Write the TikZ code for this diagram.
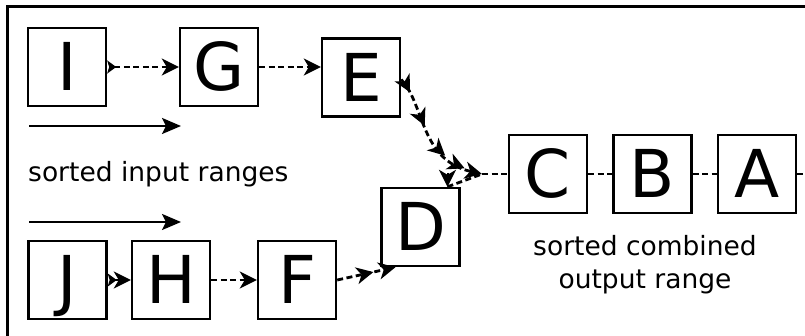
\documentclass[tikz,border=0pt]{standalone}
\usepackage{fontspec}
\setmainfont{DejaVu Sans}
\usetikzlibrary{arrows.meta,decorations.markings}
\tikzset{
  box/.style={draw, line width=2.4pt, minimum size=78pt, inner sep=0pt,
    font=\fontsize{66}{66}\selectfont, text height=48pt, text depth=0pt},
  lbl/.style={font=\fontsize{26.5}{33}\selectfont, inner sep=0pt},
  mytip/.tip={Stealth[length=17pt,width=17pt,inset=5pt]},
  dashline/.style={line width=2.8pt, dash pattern=on 6pt off 3.5pt},
  flow/.style={dashline, -mytip},
  solidarrow/.style={line width=2.5pt, -{Stealth[length=19pt,width=16pt,inset=4pt]}},
  midtips/.style={postaction={decorate, decoration={markings,
      mark=at position #1 with {\arrow[line width=2pt]{mytip}}}}}
}
\begin{document}
\begin{tikzpicture}[x=1pt,y=-1pt]
\useasboundingbox (0,0) rectangle (805,336);
\clip (0,0) rectangle (805,336);
\draw[line width=3pt] (7,345) -- (7,7) -- (815,7);
% boxes
\node[box] (I) at (67,67) {I};
\node[box] (G) at (219,67) {G};
\node[box] (E) at (361,77.5) {E};
\node[box] (D) at (420.5,227) {D};
\node[box] (J) at (67.5,280) {J};
\node[box] (H) at (171,280) {H};
\node[box] (F) at (297,280) {F};
\node[box] (C) at (548,174) {C};
\node[box] (B) at (652.5,174) {B};
\node[box] (A) at (757,174) {A};
\coordinate (M) at (482,174);
\coordinate (Aout) at (815,174);
% solid arrows
\coordinate (s1) at (29,126);
\coordinate (e1) at (181,126);
\coordinate (s2) at (29,222);
\coordinate (e2) at (181,222);
\draw[solidarrow] (s1) -- (e1);
\draw[solidarrow] (s2) -- (e2);
% labels
\node[lbl, anchor=base west] (in) at (28,182) {sorted input ranges};
\node[lbl, align=center, anchor=base] (out) at (645,289) {sorted combined\\output range};
% upper chain
\draw[dashline, {Stealth[length=9pt,width=13pt,inset=2pt,reversed]}-mytip] (I.east) -- (G.west);
\draw[flow] (G.east) -- (E.west |- G.east);
% lower chain
\draw[dashline, {Stealth[length=9pt,width=13pt,inset=2pt,reversed]}-mytip] (J.east) -- (H.west);
\draw[flow] (H.east) -- (F.west);
\draw[flow, midtips=0.62] (F.east) -- ([xshift=-25pt]D.south);
% merge
\draw[flow, midtips=0.12, midtips=0.4, midtips=0.68, midtips=0.86]
  ([yshift=-2pt]E.east) .. controls (425,105) and (420,160) .. (M);
\draw[dashline] ([xshift=27pt]D.north) -- (M);
\draw[line width=2pt, -mytip] ([xshift=27pt,yshift=14pt]D.north) -- ([xshift=27pt]D.north);
% output chain
\draw[dashline] (M) -- (C.west);
\draw[dashline] (C.east) -- (B.west);
\draw[dashline] (B.east) -- (A.west);
\draw[dashline] (A.east) -- (Aout);
\end{tikzpicture}
\end{document}
